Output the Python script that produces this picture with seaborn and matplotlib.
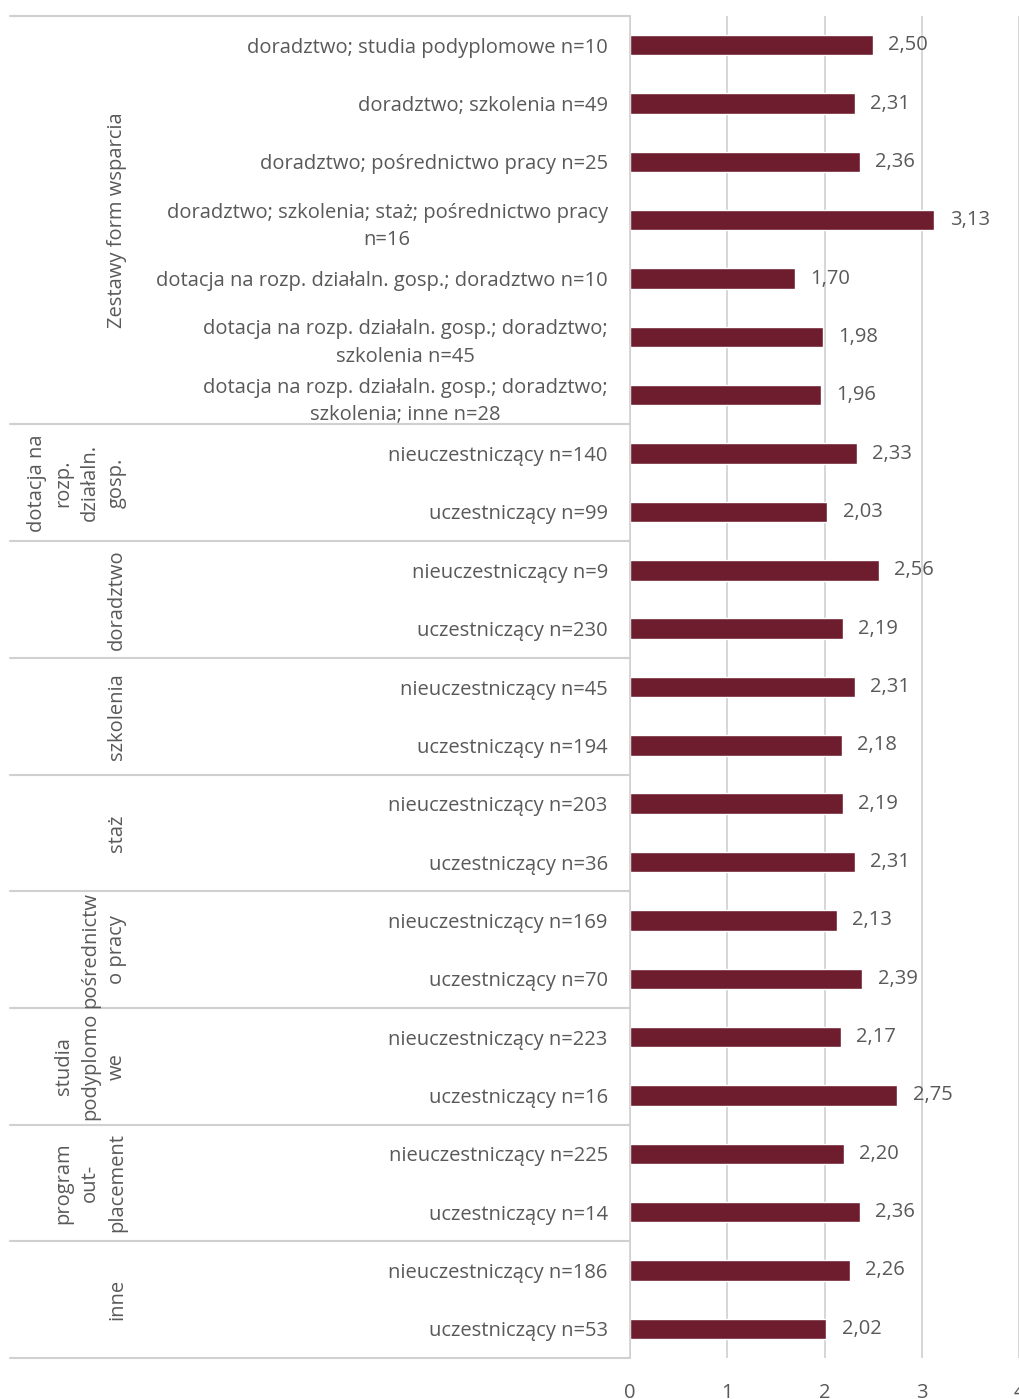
import pandas as pd
import matplotlib.pyplot as plt
import matplotlib.transforms as mtransforms
import seaborn as sns

# Data
group_names = [
    "Zestawy form wsparcia",
    "dotacja na\nrozp.\ndziałaln.\ngosp.",
    "doradztwo",
    "szkolenia",
    "staż",
    "pośrednictw\no pracy",
    "studia\npodyplomo\nwe",
    "program\nout-\nplacement",
    "inne",
]
group_sizes = [7, 2, 2, 2, 2, 2, 2, 2, 2]

item_labels = [
    "doradztwo; studia podyplomowe n=10",
    "doradztwo; szkolenia n=49",
    "doradztwo; pośrednictwo pracy n=25",
    "doradztwo; szkolenia; staż; pośrednictwo pracy\nn=16",
    "dotacja na rozp. działaln. gosp.; doradztwo n=10",
    "dotacja na rozp. działaln. gosp.; doradztwo;\nszkolenia n=45",
    "dotacja na rozp. działaln. gosp.; doradztwo;\nszkolenia; inne n=28",
    "nieuczestniczący n=140", "uczestniczący n=99",
    "nieuczestniczący n=9", "uczestniczący n=230",
    "nieuczestniczący n=45", "uczestniczący n=194",
    "nieuczestniczący n=203", "uczestniczący n=36",
    "nieuczestniczący n=169", "uczestniczący n=70",
    "nieuczestniczący n=223", "uczestniczący n=16",
    "nieuczestniczący n=225", "uczestniczący n=14",
    "nieuczestniczący n=186", "uczestniczący n=53",
]
values = [2.50, 2.31, 2.36, 3.13, 1.70, 1.98, 1.96,
          2.33, 2.03,
          2.56, 2.19,
          2.31, 2.18,
          2.19, 2.31,
          2.13, 2.39,
          2.17, 2.75,
          2.20, 2.36,
          2.26, 2.02]

x_ticks = [0, 1, 2, 3, 4]

bar_color = "#6D1D2D"
text_color = "#595959"
line_color = "#D0D0D0"

sns.set_style("white")
plt.rcParams["font.family"] = ["Open Sans", "DejaVu Sans"]
fs = 14.5

df = pd.DataFrame({
    "row": [f"r{i}" for i in range(len(values))],
    "value": values,
})

fig = plt.figure(figsize=(10.2, 13.99), dpi=100)
W, H = 1020, 1399
ax = fig.add_axes([630 / W, (H - 1358) / H, 389 / W, (1358 - 16) / H])

sns.barplot(data=df, x="value", y="row", color=bar_color, width=0.35,
            saturation=1, ax=ax)

n = len(values)
ax.set_ylim(n - 0.5, -0.5)
ax.set_xlim(0, 4)
ax.set_xticks(x_ticks)
ax.set_xticklabels([str(t) for t in x_ticks])
ax.set_xlabel("")
ax.set_ylabel("")
ax.grid(axis="x", color=line_color, linewidth=1.2)
ax.set_axisbelow(True)
for s in ["top", "right", "bottom"]:
    ax.spines[s].set_visible(False)
ax.spines["left"].set_color(line_color)
ax.spines["left"].set_linewidth(1.2)

ax.set_yticks(range(n))
ax.set_yticklabels(item_labels)
for lab in ax.get_yticklabels():
    lab.set_multialignment("center")
    lab.set_linespacing(1.5)
ax.tick_params(axis="y", length=0, pad=16, labelsize=fs, labelcolor=text_color)
ax.tick_params(axis="x", length=0, pad=18, labelsize=fs, labelcolor=text_color)

# value labels with decimal comma
ax.bar_label(ax.containers[0],
             labels=[f"{v:.2f}".replace(".", ",") for v in values],
             padding=11, fontsize=fs, color=text_color)

# category grouping: separators and rotated group names
trans = mtransforms.blended_transform_factory(ax.transAxes, ax.transData)
x_left = (10 - 630) / 389
x_group = (127 - 630) / 389
start = 0
bounds = [-0.5]
for name, size in zip(group_names, group_sizes):
    end = start + size
    bounds.append(end - 0.5)
    mid = (start + end - 1) / 2
    ax.text(x_group, mid, name, transform=trans, rotation=90,
            ha="right", va="center", multialignment="center",
            fontsize=fs, color=text_color, linespacing=1.45, clip_on=False)
    start = end
for b in bounds:
    ax.plot([x_left, 0], [b, b], transform=trans, color=line_color,
            linewidth=1.5, clip_on=False)

fig.savefig("out.png", dpi=100)
